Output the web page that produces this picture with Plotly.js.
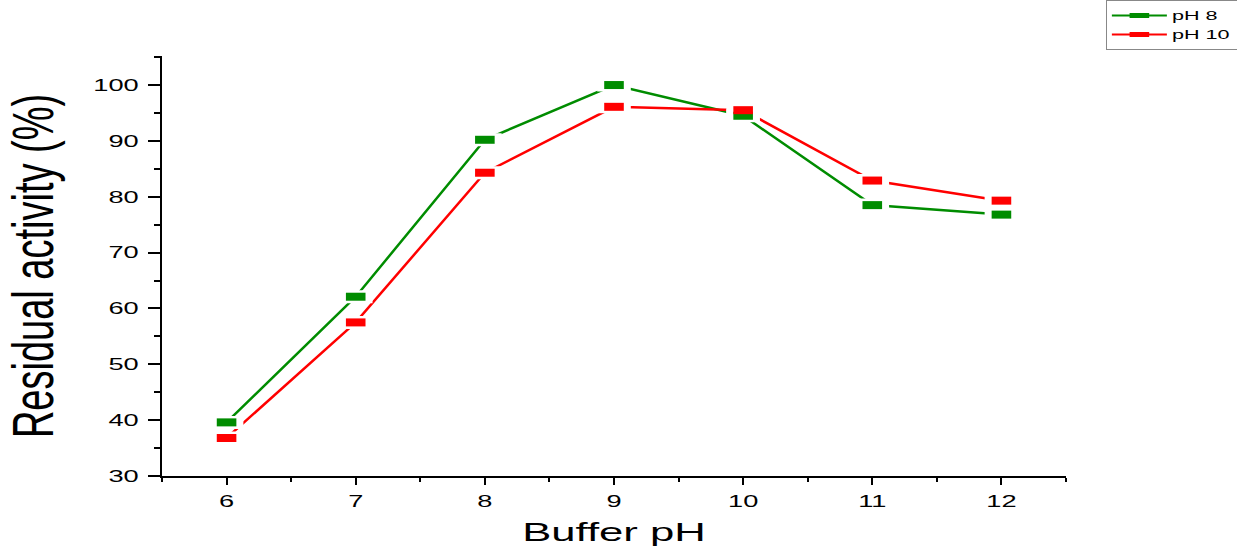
<!DOCTYPE html>
<html>
<head>
<meta charset="utf-8">
<script src="https://cdn.plot.ly/plotly-3.0.1.min.js"></script>
<style>html,body{margin:0;padding:0;background:#fff;overflow:hidden}#chart{width:1237px;height:548px}</style>
</head>
<body>
<div id="chart"></div>
<script>
// Data
const bufferPH = [6, 7, 8, 9, 10, 11, 12];
const seriesNames = ["pH 8", "pH 10"];
const activityPH8 = [39.6, 62.1, 90.2, 100.0, 94.5, 78.5, 76.8];
const activityPH10 = [36.8, 57.5, 84.3, 96.1, 95.5, 82.9, 79.3];
const xTickVals = [6, 7, 8, 9, 10, 11, 12];
const yTickVals = [30, 40, 50, 60, 70, 80, 90, 100];

const GREEN = "#008c00";
const RED = "#ff0000";
const FONT = "Liberation Sans, Arial, sans-serif";
const series = [
  {name: seriesNames[0], y: activityPH8, color: GREEN},
  {name: seriesNames[1], y: activityPH10, color: RED}
];

const traces = [];
// connecting lines
series.forEach(s => traces.push({
  x: bufferPH, y: s.y, mode: "lines", type: "scatter",
  line: {color: s.color, width: 2.5}, showlegend: false, hoverinfo: "skip"
}));
// white masks to create the gap between line and marker
series.forEach(s => traces.push({
  x: bufferPH, y: s.y, mode: "markers", type: "scatter",
  marker: {symbol: "line-ew", size: 24, line: {color: "#ffffff", width: 13}},
  showlegend: false, hoverinfo: "skip"
}));
// rectangular markers
series.forEach(s => traces.push({
  x: bufferPH, y: s.y, mode: "markers", type: "scatter",
  marker: {symbol: "line-ew", size: 14, color: s.color, line: {color: s.color, width: 8}},
  showlegend: false, name: s.name
}));
// legend entries
series.forEach(s => traces.push({
  x: [null], y: [null], mode: "lines+markers", type: "scatter", name: s.name,
  line: {color: s.color, width: 2},
  marker: {symbol: "line-ew", size: 14, color: s.color, line: {color: s.color, width: 8}}
}));

const layout = {
  width: 1237, height: 548,
  paper_bgcolor: "#ffffff", plot_bgcolor: "#ffffff",
  margin: {l: 162, r: 171, t: 56, b: 72},
  font: {family: FONT, color: "#000"},
  xaxis: {
    range: [5.5, 12.5], tickvals: xTickVals, ticktext: xTickVals.map(String),
    showline: true, linecolor: "#000", linewidth: 2, mirror: false,
    ticks: "outside", ticklen: 7, tickwidth: 2, tickcolor: "#000",
    minor: {ticks: "outside", ticklen: 4, tickwidth: 2, tickcolor: "#000", tick0: 5.5, dtick: 0.5},
    showgrid: false, zeroline: false, ticklabelstandoff: 2,
    tickfont: {family: FONT, size: 16.5, color: "#000"},
    title: {text: "Buffer pH", font: {family: FONT, size: 26, color: "#000"}, standoff: 14}
  },
  yaxis: {
    range: [30, 105.2], tickvals: yTickVals, ticktext: yTickVals.map(String),
    showline: true, linecolor: "#000", linewidth: 2, mirror: false,
    ticks: "outside", ticklen: 12, tickwidth: 2, tickcolor: "#000",
    minor: {ticks: "outside", ticklen: 6, tickwidth: 2, tickcolor: "#000", tick0: 30, dtick: 5},
    showgrid: false, zeroline: false, ticklabelstandoff: 6,
    tickfont: {family: FONT, size: 16.5, color: "#000"},
    title: {text: "Residual activity (%)", font: {family: FONT, size: 38, color: "#000"}, standoff: 52}
  },
  legend: {
    xref: "container", yref: "container",
    x: 0.894, y: 1.0, xanchor: "left", yanchor: "top",
    bgcolor: "#ffffff", bordercolor: "#888888", borderwidth: 1,
    font: {family: FONT, size: 12, color: "#000"},
    tracegroupgap: 0, itemwidth: 55
  },
  showlegend: true
};

// The reference text is horizontally stretched; widen the real text elements to match.
function stretchText(selector, factor, anchor) {
  document.querySelectorAll(selector).forEach(el => {
    const svg = el.ownerSVGElement;
    const r = el.getBoundingClientRect();
    const sx = anchor === "left" ? r.left : anchor === "right" ? r.right : (r.left + r.right) / 2;
    const sy = (r.top + r.bottom) / 2;
    const pt = svg.createSVGPoint(); pt.x = sx; pt.y = sy;
    const p = pt.matrixTransform(el.parentNode.getScreenCTM().inverse());
    const old = el.getAttribute("transform") || "";
    el.setAttribute("transform",
      "translate(" + p.x + "," + p.y + ") scale(" + factor + ",1) translate(" + (-p.x) + "," + (-p.y) + ") " + old);
  });
}

Plotly.newPlot("chart", traces, layout, {displayModeBar: false, staticPlot: true}).then(() => {
  stretchText(".xtick text", 1.65, "center");
  stretchText(".ytick text", 1.65, "right");
  stretchText(".xtitle", 1.68, "center");
  stretchText(".ytitle", 1.5, "center");
  stretchText(".legendtext", 1.8, "left");
  // let the legend box run off the right edge, as in the reference
  document.querySelectorAll(".legend .scrollbox").forEach(el => el.removeAttribute("clip-path"));
  document.querySelectorAll(".legend rect.bg").forEach(el => el.setAttribute("width", 200));
});
</script>
</body>
</html>
